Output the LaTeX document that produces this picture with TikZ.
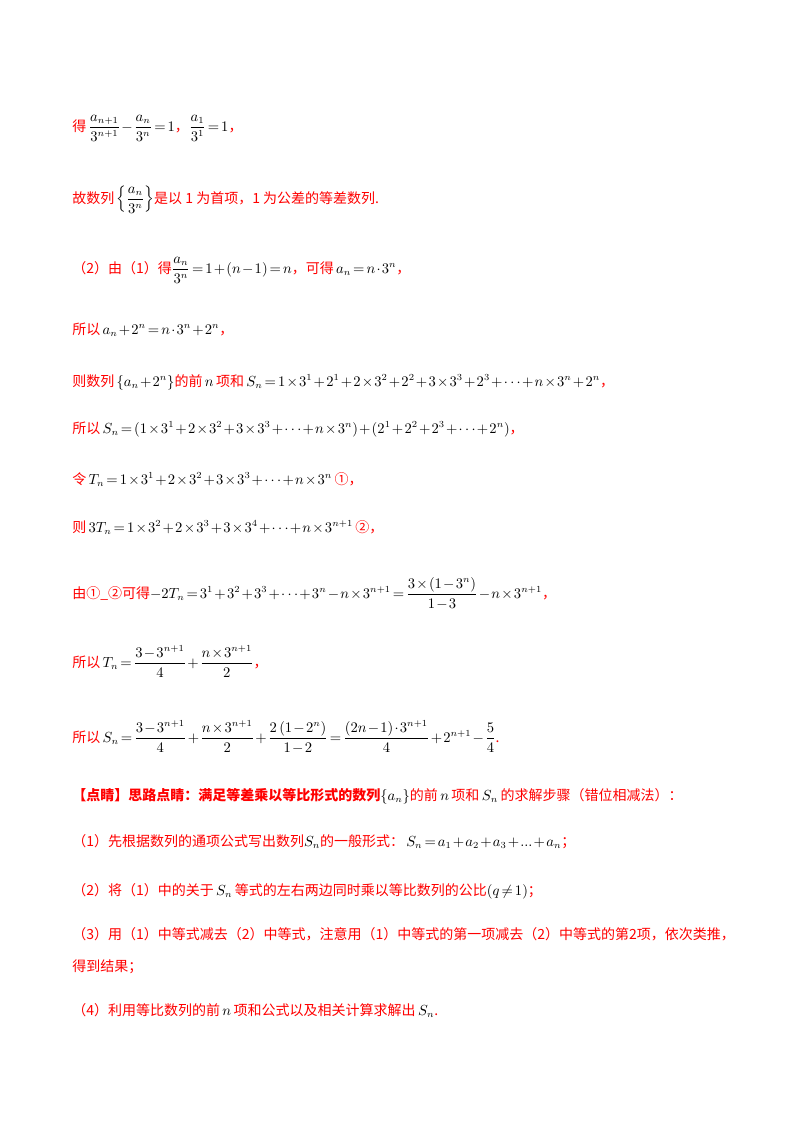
\documentclass[tikz,border=0pt]{standalone}
\usepackage{fontspec}
\usepackage{amsmath}
\setmainfont{Liberation Serif}
\newfontfamily\cjk{Noto Sans CJK SC}
\newcommand{\zh}[1]{\textcolor{red}{\cjk #1}}
\begin{document}
\medmuskip=1.5mu plus 1mu\thickmuskip=2.5mu plus 2mu
\begin{tikzpicture}[x=0.75pt,y=-0.75pt,
  ln/.style={anchor=base west,inner sep=0pt,font=\fontsize{10.5}{12}\selectfont}]
\useasboundingbox (0,0) rectangle (800,1132);
\node[ln] (l1) at (72,131) {\zh{得}\,$\dfrac{a_{n+1}}{3^{n+1}}-\dfrac{a_n}{3^n}=1$\zh{，}$\dfrac{a_1}{3^1}=1$\zh{，}};
\node[ln] (l2) at (72,203) {\zh{故数列}\,$\left\{\dfrac{a_n}{3^n}\right\}$\zh{是以 1 为首项，1 为公差的等差数列.}};
\node[ln] (l3) at (72,273) {\zh{（2）由（1）得}$\dfrac{a_n}{3^n}=1+(n-1)=n$\zh{，可得}\,$a_n=n\cdot3^n$\zh{，}};
\node[ln] (l4) at (72,334) {\zh{所以}\,$a_n+2^n=n\cdot3^n+2^n$\zh{，}};
\node[ln] (l5) at (72,386) {\zh{则数列}\,$\left\{a_n+2^n\right\}$\zh{的前}$\,n\,$\zh{项和}\,$S_n=1\times3^1+2^1+2\times3^2+2^2+3\times3^3+2^3+\cdots+n\times3^n+2^n$\zh{，}};
\node[ln] (l6) at (72,433) {\zh{所以}\,$S_n=\left(1\times3^1+2\times3^2+3\times3^3+\cdots+n\times3^n\right)+\left(2^1+2^2+2^3+\cdots+2^n\right)$\zh{，}};
\node[ln] (l7) at (72,484) {\zh{令}\,$T_n=1\times3^1+2\times3^2+3\times3^3+\cdots+n\times3^n$\,\zh{①，}};
\node[ln] (l8) at (72,532) {\zh{则}\,$3T_n=1\times3^2+2\times3^3+3\times3^4+\cdots+n\times3^{n+1}$\,\zh{②，}};
\node[ln] (l9) at (72,598) {\zh{由①\_②可得}$-2T_n=3^1+3^2+3^3+\cdots+3^n-n\times3^{n+1}=\dfrac{3\times\left(1-3^n\right)}{1-3}-n\times3^{n+1}$\zh{，}};
\node[ln] (l10) at (72,667) {\zh{所以}\,$T_n=\dfrac{3-3^{n+1}}{4}+\dfrac{n\times3^{n+1}}{2}$\zh{，}};
\node[ln] (l11) at (72,742) {\zh{所以}\,$S_n=\dfrac{3-3^{n+1}}{4}+\dfrac{n\times3^{n+1}}{2}+\dfrac{2\left(1-2^n\right)}{1-2}=\dfrac{(2n-1)\cdot3^{n+1}}{4}+2^{n+1}-\dfrac54$\zh{.}};
\node[ln] (l12) at (72,800) {\zh{\bfseries【点睛】思路点睛：满足等差乘以等比形式的数列}$\left\{a_n\right\}$\zh{的前}$\,n\,$\zh{项和}$\,S_n\,$\zh{的求解步骤（错位相减法）：}};
\node[ln] (l13) at (72,846) {\zh{（1）先根据数列的通项公式写出数列}$S_n$\zh{的一般形式：}$\;S_n=a_1+a_2+a_3+...+a_n$\zh{；}};
\node[ln] (l14) at (72,895) {\zh{（2）将（1）中的关于}$\,S_n\,$\zh{等式的左右两边同时乘以等比数列的公比}$\left(q\neq1\right)$\zh{；}};
\node[ln] (l15) at (72,939) {\zh{（3）用（1）中等式减去（2）中等式，注意用（1）中等式的第一项减去（2）中等式的第2项，依次类推，}};
\node[ln] (l16) at (72,971) {\zh{得到结果；}};
\node[ln] (l17) at (72,1015) {\zh{（4）利用等比数列的前}$\,n\,$\zh{项和公式以及相关计算求解出}$\,S_n$\zh{.}};
\end{tikzpicture}
\end{document}
